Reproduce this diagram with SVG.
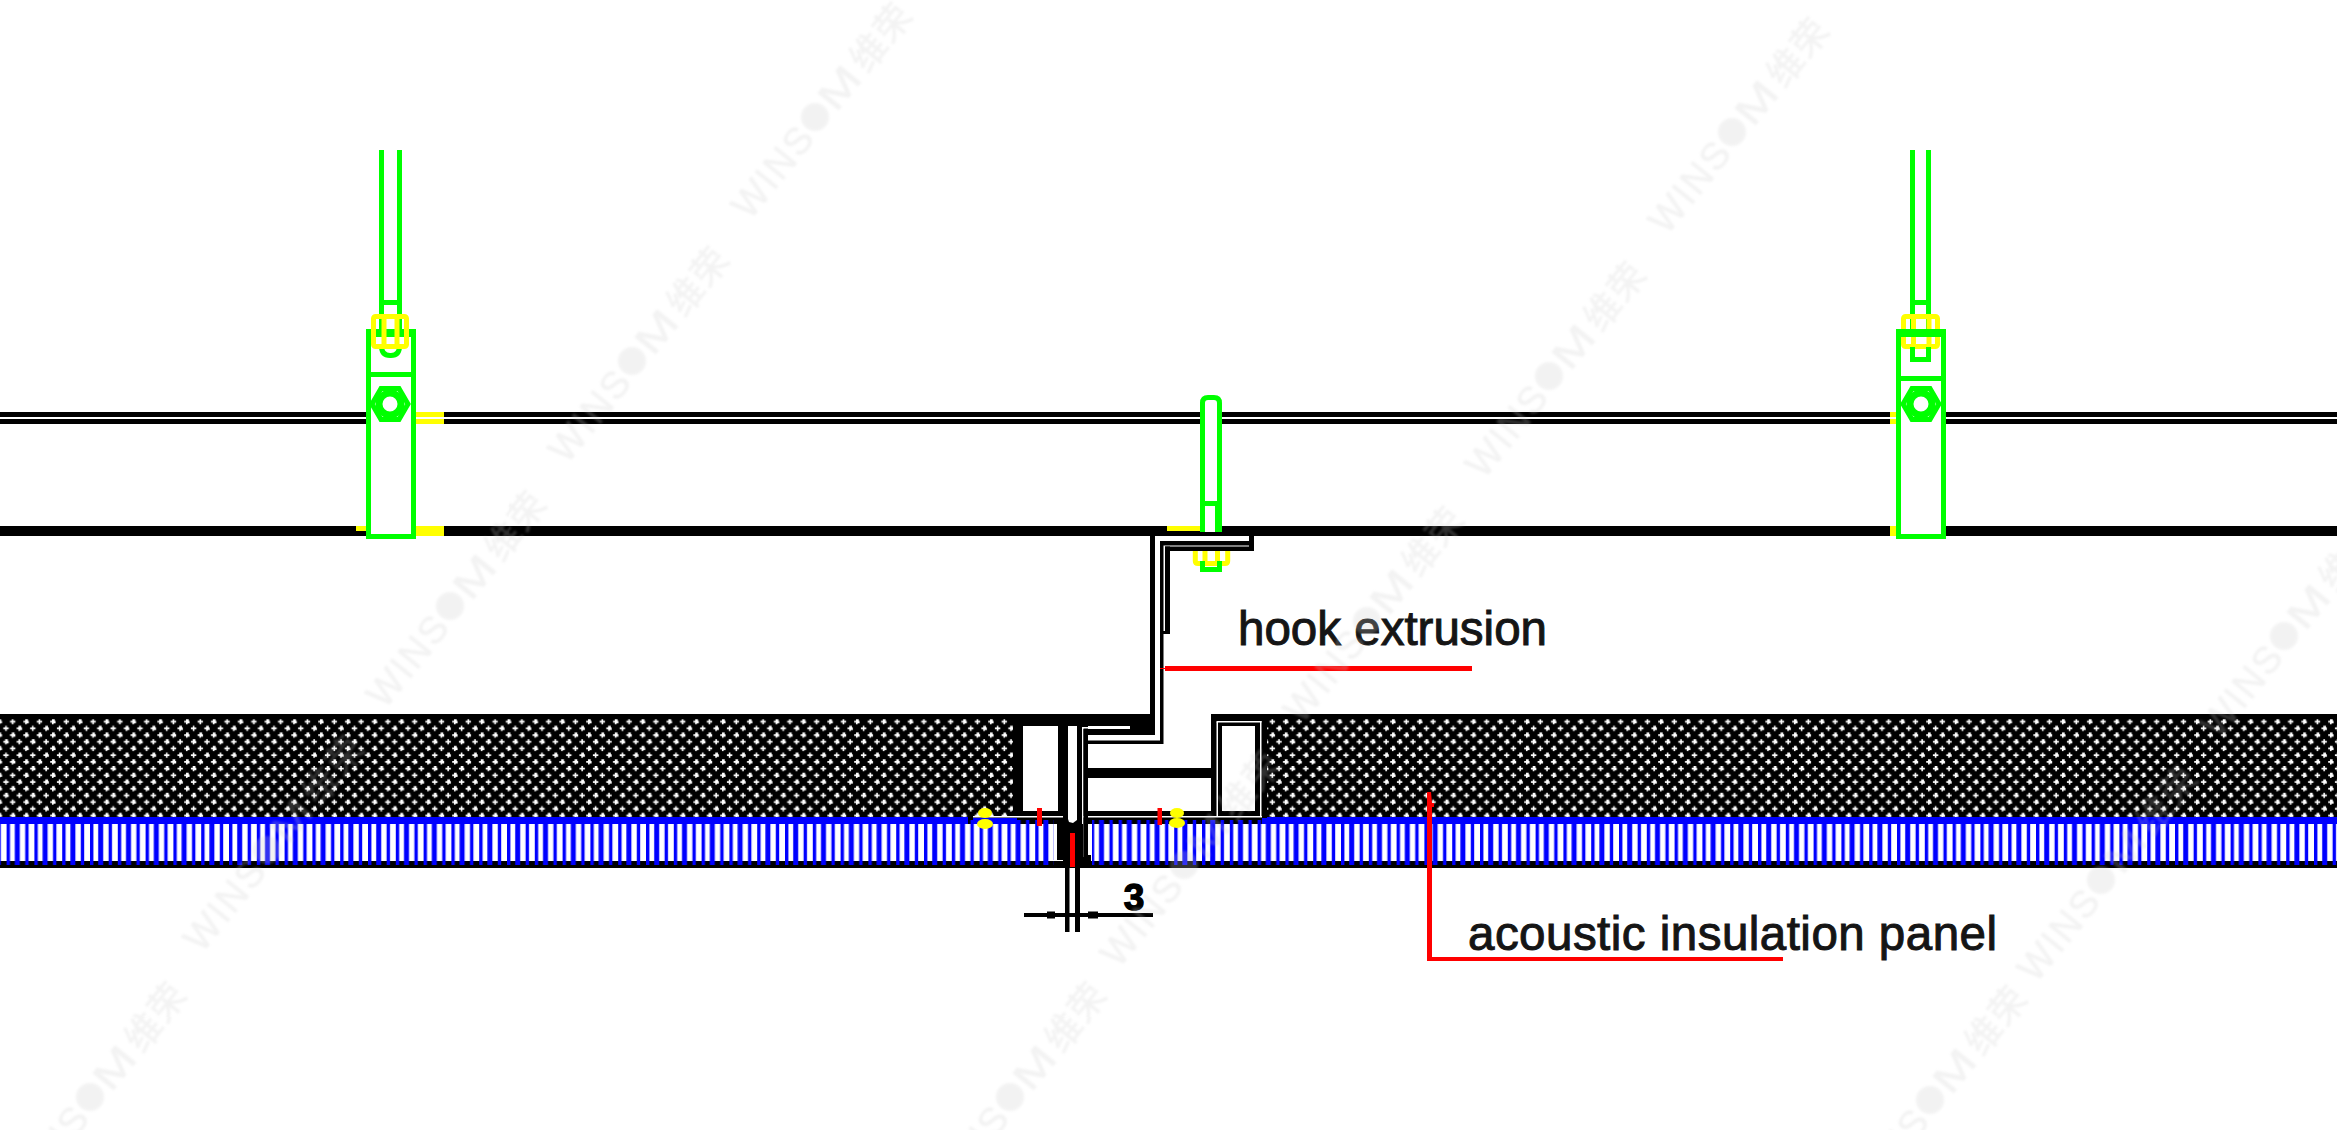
<svg xmlns="http://www.w3.org/2000/svg" width="2337" height="1130" viewBox="0 0 2337 1130">
<style>
.k{fill:#000}.w{fill:#fff}.b{fill:#0000ff}.r{fill:#ff0000}.y{fill:#ffff00}.g{fill:#00ff00}
.gs{fill:none;stroke:#00ff00;stroke-width:5}
.ys{fill:none;stroke:#ffff00;stroke-width:5}
.lbl{font-family:"Liberation Sans",Arial,sans-serif;font-size:47.5px;fill:#151515;stroke:#151515;stroke-width:1}
.dim{font-family:"Liberation Sans",Arial,sans-serif;font-size:37px;font-weight:bold;fill:#000;stroke:#000;stroke-width:1.4}
.wm{font-family:"Liberation Sans",Arial,sans-serif;font-size:38px;fill:#cdcdcd;stroke:#cdcdcd;stroke-width:.6}
.wc{font-family:"Noto Sans CJK SC","Liberation Sans",sans-serif;font-size:36px;fill:#cdcdcd;stroke:#cdcdcd;stroke-width:.6}
</style>
<defs>
<path id="c" d="M-2.7-.8H-.8V-2.7H.8V-.8H2.7V.8H.8V2.7H-.8V.8H-2.7Z" fill="#fff"/>
<path id="d" d="M-2.7-.9H-.9V-2.7H1.8V-.9H2.7V1.6H.7V2.7H-.9V.9H-2.7Z" fill="#fff"/>
<pattern id="dots" patternUnits="userSpaceOnUse" width="26.8" height="26.8" patternTransform="translate(9.35 718.35)">
<rect width="26.8" height="26.8" fill="#000"/>
<use href="#c" x="3.35" y="3.35"/><use href="#d" x="16.75" y="3.35"/>
<use href="#d" x="10.05" y="10.05"/><use href="#c" x="23.45" y="10.05"/>
<use href="#d" x="3.35" y="16.75"/><use href="#d" x="16.75" y="16.75"/>
<use href="#c" x="10.05" y="23.45"/><use href="#d" x="23.45" y="23.45"/>
</pattern>
<pattern id="bars" patternUnits="userSpaceOnUse" width="27.8" height="60" patternTransform="translate(6.6 0)">
<rect x="0" width="3.4" height="60" fill="#0000ff"/>
<rect x="8.2" width="5" height="60" fill="#0000ff"/>
<rect x="18.6" width="3.4" height="60" fill="#0000ff"/>
</pattern>
<g id="nut">
<path class="gs" d="M-18 0L-9-15.6H9L18 0L9 15.6H-9Z"/>
<circle r="11" fill="#fff" stroke="#00ff00" stroke-width="7"/>
</g>
<filter id="soft" x="-10%" y="-10%" width="120%" height="120%"><feGaussianBlur stdDeviation="1"/></filter>
<g id="mark" opacity="0.24" filter="url(#soft)">
<text class="wm" x="-17" y="15" text-anchor="end" textLength="105">WINS</text>
<circle r="14" fill="#cdcdcd"/>
<text class="wm" x="16" y="14" textLength="44" lengthAdjust="spacingAndGlyphs">M</text>
<text class="wc" x="66" y="13.5" textLength="74">维荣</text>
</g>
</defs>
<rect width="2337" height="1130" fill="#fff"/>

<g id="rails">
<rect class="k" x="0" y="412" width="2337" height="5"/>
<rect class="k" x="0" y="419" width="2337" height="5"/>
<rect class="k" x="0" y="526" width="2337" height="10"/>
</g>

<g id="panel-left">
<rect x="0" y="714" width="1020" height="104" fill="url(#dots)"/>
<rect class="k" x="0" y="714" width="1020" height="5"/>
<rect class="b" x="0" y="817" width="968" height="7"/>
<rect class="k" x="968" y="817" width="90" height="7"/>
<rect class="b" x="973" y="818" width="44" height="6"/>
<rect x="0" y="820" width="1054" height="45" fill="url(#bars)"/>
</g>

<g id="panel-right">
<rect x="1262" y="714" width="1075" height="104" fill="url(#dots)"/>
<rect class="k" x="1262" y="714" width="1075" height="5"/>
<rect class="b" x="1262" y="817" width="1075" height="7"/>
<rect class="k" x="1087" y="817" width="175" height="7"/>
<rect x="1092" y="820" width="1245" height="45" fill="url(#bars)"/>
</g>
<rect id="base-line" class="k" x="0" y="861" width="2337" height="7"/>
<g id="bar-overlap">
<rect x="0" y="861" width="1054" height="4" fill="url(#bars)"/>
<rect x="1092" y="861" width="1245" height="4" fill="url(#bars)"/>
</g>

<g id="extrusion">
<rect class="k" x="1013" y="714" width="142" height="12"/>
<rect class="k" x="1013" y="714" width="75" height="104"/>
<rect class="k" x="1057" y="817" width="31" height="44"/>
<rect class="k" x="1211" y="714" width="56" height="104"/>
<rect class="k" x="1087" y="811" width="175" height="6"/>
<rect class="k" x="1087" y="768" width="124" height="10"/>
<rect class="w" x="1023" y="726" width="35" height="85"/>
<path class="w" d="M1068 726H1077V820L1073 823L1069 822L1068 819Z"/>
<rect class="w" x="1087" y="744" width="124" height="24"/>
<rect class="w" x="1087" y="778" width="124" height="33"/>
<rect class="w" x="1222" y="726" width="33" height="85"/>
<rect class="w" x="1082" y="727" width="1.5" height="130"/>
<rect class="w" x="973" y="816" width="90" height="1.5"/>
<rect class="w" x="1083" y="816" width="179" height="1.5"/>
<rect class="w" x="1216.5" y="722" width="1.5" height="95"/>
<rect class="w" x="1216.5" y="721" width="45" height="1.5"/>
<rect class="w" x="1260" y="721" width="1.5" height="96"/>
<rect class="w" x="1053" y="860" width="10" height="1"/>
<rect class="w" x="1082" y="727" width="46" height="1.5"/>
<rect class="k" x="1084" y="729" width="71" height="6"/>
<rect class="k" x="1130" y="726" width="25" height="3"/>
<rect class="w" x="1093" y="735.5" width="67" height="5"/>
<rect class="w" x="1155" y="714" width="5" height="27"/>
<rect class="k" x="1088" y="740.5" width="75" height="3.5"/>
<rect class="k" x="1083.5" y="729" width="4.5" height="128"/>
<rect class="k" x="1087" y="855" width="4" height="6"/>
<rect class="k" x="1065" y="868" width="4.5" height="64"/>
<rect class="k" x="1075" y="868" width="5" height="64"/>
<rect class="k" x="1065" y="824" width="18" height="44"/>
<rect class="r" x="1070" y="833" width="5" height="34"/>
</g>

<g id="hook">
<rect class="k" x="1150" y="536" width="5" height="190"/>
<rect class="k" x="1160" y="541" width="3.5" height="203"/>
<rect class="k" x="1160" y="541" width="94" height="4.5"/>
<rect class="k" x="1165" y="546.5" width="89" height="4.5"/>
<rect class="k" x="1249" y="536" width="5" height="15"/>
<rect class="k" x="1165" y="546.5" width="5" height="87"/>
<rect class="k" x="1163" y="631" width="7" height="3"/>
</g>

<g id="hanger-left">
<rect class="y" x="416" y="412" width="28" height="5"/>
<rect class="y" x="416" y="419" width="28" height="5"/>
<rect class="y" x="416" y="526" width="28" height="10"/>
<rect class="y" x="356" y="526" width="10" height="5"/>
<rect class="g" x="379" y="150" width="5" height="180"/>
<rect class="g" x="397" y="150" width="5" height="180"/>
<rect class="g" x="379" y="300" width="23" height="5"/>
<rect class="w" x="366" y="329" width="50" height="210"/>
<rect class="gs" x="368.5" y="331.5" width="45" height="205"/>
<rect class="g" x="366" y="329" width="50" height="8"/>
<rect class="g" x="366" y="372" width="50" height="5"/>
<path class="gs" d="M381.5 346Q381.5 355.5 390 355.5H391Q399.5 355.5 399.5 346"/>
<rect class="ys" x="373.5" y="316.5" width="33" height="30" rx="2"/>
<path class="ys" d="M384 316V346M397 316V346"/>
<use href="#nut" x="390" y="404"/>
</g>

<g id="hanger-right">
<rect class="y" x="1890" y="412" width="6" height="5"/>
<rect class="y" x="1890" y="419" width="6" height="5"/>
<rect class="y" x="1890" y="526" width="6" height="10"/>
<rect class="g" x="1910" y="150" width="5" height="180"/>
<rect class="g" x="1926" y="150" width="5" height="180"/>
<rect class="g" x="1910" y="300" width="21" height="5"/>
<rect class="w" x="1896" y="329" width="50" height="210"/>
<rect class="ys" x="1903.5" y="316.5" width="34" height="30" rx="2"/>
<path class="ys" d="M1913.5 316V346M1929 316V346"/>
<rect class="gs" x="1898.5" y="331.5" width="45" height="205"/>
<rect class="g" x="1896" y="329" width="50" height="8"/>
<rect class="g" x="1896" y="376" width="50" height="5"/>
<path class="gs" d="M1912.5 347V359.5H1928.5V347"/>
<use href="#nut" x="1921" y="404"/>
</g>

<g id="hanger-center">
<rect class="y" x="1167" y="526" width="37" height="5"/>
<path class="gs" style="fill:#fff" d="M1202.5 532V403Q1202.5 397.5 1208 397.5H1214Q1219.5 397.5 1219.5 403V532"/>
<rect class="g" x="1209" y="395" width="4" height="2"/>
<rect class="g" x="1215" y="506" width="7" height="26"/>
<rect class="g" x="1200" y="501" width="22" height="5"/>
<path class="ys" d="M1195.3 551V561Q1195.3 563.5 1198 563.5H1203M1205 551V563.5M1217.5 551V563.5M1227.7 551V561Q1227.7 563.5 1225 563.5H1219M1205 563.5H1217.5"/>
<path class="gs" d="M1202.5 561V569.5H1219.5V561"/>
</g>

<g id="fixings">
<rect class="r" x="1037" y="808" width="5" height="18"/>
<rect class="r" x="1157.5" y="808" width="4.5" height="17"/>
<ellipse class="y" cx="985" cy="813" rx="7" ry="5"/>
<ellipse class="y" cx="985" cy="824" rx="8" ry="5"/>
<ellipse class="y" cx="1177" cy="813" rx="7" ry="5"/>
<ellipse class="y" cx="1177" cy="823" rx="8" ry="5"/>
</g>

<g id="dimension">
<rect class="k" x="1024" y="913" width="129" height="4"/>
<rect class="k" x="1047" y="911.5" width="8" height="7"/>
<rect class="k" x="1088" y="911.5" width="10" height="7"/>
<text class="dim" x="1134" y="910" text-anchor="middle">3</text>
</g>

<g id="connectors">
<rect class="r" x="1165" y="666" width="307" height="5"/>
<rect class="r" x="1160" y="668" width="5" height="1"/>
<path class="r" d="M1427 792H1431L1432 803H1434V807H1432V957H1783V961H1427Z"/>
</g>

<g id="labels">
<text class="lbl" x="1238" y="645" textLength="309">hook extrusion</text>
<text class="lbl" x="1468" y="950" textLength="529">acoustic insulation panel</text>
</g>

<g id="watermarks">
<use href="#mark" transform="translate(815 117) rotate(-51)"/>
<use href="#mark" transform="translate(632 361) rotate(-51)"/>
<use href="#mark" transform="translate(450 606) rotate(-51)"/>
<use href="#mark" transform="translate(267 850) rotate(-51)"/>
<use href="#mark" transform="translate(90 1097) rotate(-51)"/>
<use href="#mark" transform="translate(1732 132) rotate(-51)"/>
<use href="#mark" transform="translate(1549 376) rotate(-51)"/>
<use href="#mark" transform="translate(1367 621) rotate(-51)"/>
<use href="#mark" transform="translate(1184 865) rotate(-51)"/>
<use href="#mark" transform="translate(1010 1097) rotate(-51)"/>
<use href="#mark" transform="translate(2466 391) rotate(-51)"/>
<use href="#mark" transform="translate(2284 636) rotate(-51)"/>
<use href="#mark" transform="translate(2101 880) rotate(-51)"/>
<use href="#mark" transform="translate(1930 1100) rotate(-51)"/>
</g>
</svg>
